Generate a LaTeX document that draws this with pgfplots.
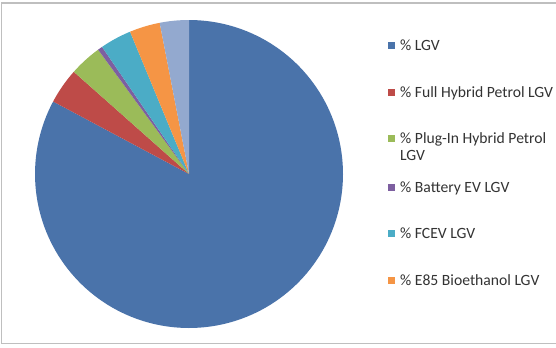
\documentclass[border=0pt]{standalone}
\usepackage{pgfplots}
\usepackage{pgfplotstable}
\pgfplotsset{compat=1.18}
\usepackage{fontspec}
\setmainfont{Carlito}
\definecolor{cA}{HTML}{4A73AA}
\definecolor{cB}{HTML}{BE4B48}
\definecolor{cC}{HTML}{9BBB59}
\definecolor{cD}{HTML}{7D5FA0}
\definecolor{cE}{HTML}{4BACC6}
\definecolor{cF}{HTML}{F59545}
\definecolor{cG}{HTML}{93A9CF}
\definecolor{frame}{HTML}{BFBFBF}
\pgfplotstableread{
value
82.8
3.75
3.4
0.5
3.3
3.2
3.05
}\piedata
\begin{document}
\def\acc{0}%
\foreach \i/\n in {0/a,1/b,2/c,3/d,4/e,5/f,6/g}{%
  \pgfplotstablegetelem{\i}{value}\of\piedata
  \pgfmathsetmacro\s{90-3.6*\acc}%
  \pgfmathsetmacro\e{90-3.6*(\acc+\pgfplotsretval)}%
  \expandafter\xdef\csname pieS\n\endcsname{\s}%
  \expandafter\xdef\csname pieE\n\endcsname{\e}%
  \pgfmathsetmacro\newacc{\acc+\pgfplotsretval}%
  \xdef\acc{\newacc}%
}%
\begin{tikzpicture}[x=1bp,y=1bp]
\useasboundingbox (0,0) rectangle (556,347);
\fill[white] (0,0) rectangle (556,347);
\draw[frame, line width=1.2bp] (1.5,3.5) rectangle (600,344);
\begin{axis}[
  at={(35bp,19bp)}, anchor=south west,
  scale only axis, width=308bp, height=308bp,
  xmin=-1, xmax=1, ymin=-1, ymax=1,
  hide axis, clip=false,
  legend image code/.code={\fill[#1] (0bp,1.5bp) rectangle (7bp,8.5bp);},
  legend style={at={(axis description cs:1.1461,0.9805)}, anchor=north west,
    draw=none, fill=none, inner sep=0pt, row sep=0pt, column sep=5bp,
    font=\fontsize{15.7}{17.5}\selectfont, text=black!80,
    nodes={inner sep=0pt, text depth=0pt}, cells={anchor=base west, text depth=0pt}},
]
\addplot[fill=cA, draw=none, domain=\pieEa:\pieSa, samples=150] ({cos(x)},{sin(x)}) -- (axis cs:0,0) -- cycle;
\addlegendentry{\rule{0pt}{24bp}\% LGV}
\addplot[fill=cB, draw=none, domain=\pieEb:\pieSb, samples=20] ({cos(x)},{sin(x)}) -- (axis cs:0,0) -- cycle;
\addlegendentry{\rule{0pt}{47bp}\% Full Hybrid Petrol LGV}
\addplot[fill=cC, draw=none, domain=\pieEc:\pieSc, samples=20] ({cos(x)},{sin(x)}) -- (axis cs:0,0) -- cycle;
\addlegendentry{\rule{0pt}{46bp}\parbox[t]{170bp}{\% Plug-In Hybrid Petrol\\LGV}}
\addplot[fill=cD, draw=none, domain=\pieEd:\pieSd, samples=5] ({cos(x)},{sin(x)}) -- (axis cs:0,0) -- cycle;
\addlegendentry{\rule{0pt}{49bp}\% Battery EV LGV}
\addplot[fill=cE, draw=none, domain=\pieEe:\pieSe, samples=20] ({cos(x)},{sin(x)}) -- (axis cs:0,0) -- cycle;
\addlegendentry{\rule{0pt}{46bp}\% FCEV LGV}
\addplot[fill=cF, draw=none, domain=\pieEf:\pieSf, samples=20] ({cos(x)},{sin(x)}) -- (axis cs:0,0) -- cycle;
\addlegendentry{\rule{0pt}{47bp}\% E85 Bioethanol LGV}
\addplot[fill=cG, draw=none, domain=\pieEg:\pieSg, samples=20, forget plot] ({cos(x)},{sin(x)}) -- (axis cs:0,0) -- cycle;
\end{axis}
\end{tikzpicture}
\end{document}
